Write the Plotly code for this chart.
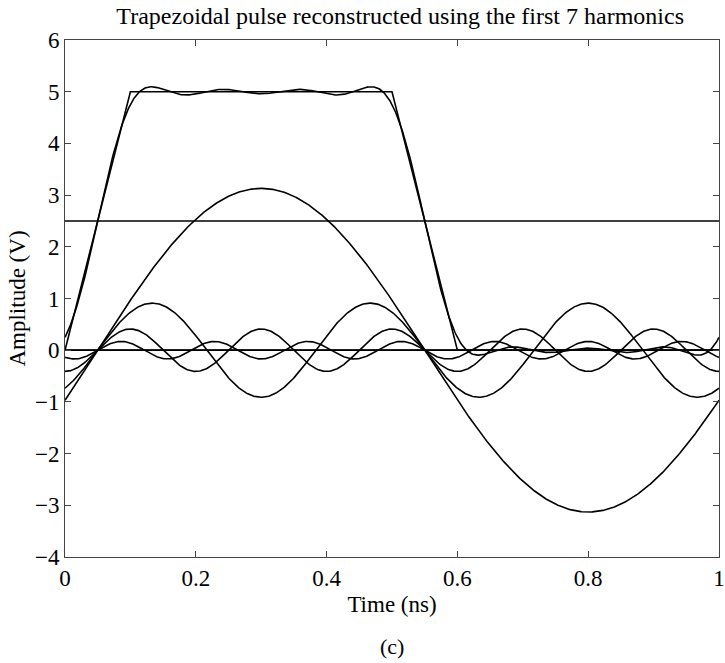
import numpy as np
import plotly.graph_objects as go

# Data
pulse_t = [0.0, 0.1, 0.5, 0.6, 1.0]          # trapezoid vertices (ns)
pulse_v = [0.0, 5.0, 5.0, 0.0, 0.0]          # trapezoid amplitude (V)
dc_level = 2.5                                # DC component (V)
harmonic_n = [1, 2, 3, 4, 5, 6, 7]
harmonic_amp = [3.13, 0.0, -0.91, 0.0, 0.41, 0.0, -0.17]  # cosine amplitudes (V)
pulse_center = 0.3                            # ns, centre of the pulse
period = 1.0                                  # ns
x_ticks = [0, 0.2, 0.4, 0.6, 0.8, 1]
x_ticklabels = ["0", "0.2", "0.4", "0.6", "0.8", "1"]
y_ticks = [-4, -3, -2, -1, 0, 1, 2, 3, 4, 5, 6]

t = np.linspace(0, period, 801)
line = dict(color="black", width=1.6)
FONT = "Liberation Serif, Times New Roman, serif"

fig = go.Figure()
# trapezoidal pulse
fig.add_trace(go.Scatter(x=pulse_t, y=pulse_v, mode="lines", line=line))
# DC term
fig.add_trace(go.Scatter(x=[0, period], y=[dc_level, dc_level], mode="lines", line=line))
# individual harmonics
total = np.full_like(t, dc_level)
for n, a in zip(harmonic_n, harmonic_amp):
    h = a * np.cos(2 * np.pi * n * (t - pulse_center) / period)
    total = total + h
    fig.add_trace(go.Scatter(x=t, y=h, mode="lines", line=line))
# reconstruction
fig.add_trace(go.Scatter(x=t, y=total, mode="lines", line=line))

axis_common = dict(
    showline=True, linecolor="#444444", linewidth=1, mirror="ticks",
    ticks="inside", ticklen=6, tickwidth=1, tickcolor="#444444",
    showgrid=False, zeroline=False, ticklabeloverflow="allow", automargin=False,
    tickfont=dict(family=FONT, size=23, color="black"),
)

fig.update_layout(
    width=725, height=663,
    margin=dict(l=65, r=6, t=40, b=106, autoexpand=False),
    plot_bgcolor="white", paper_bgcolor="white",
    showlegend=False,
    font=dict(family=FONT, color="black"),
    title=dict(text="Trapezoidal pulse reconstructed using the first 7 harmonics",
               font=dict(family=FONT, size=24, color="black"),
               x=0.552, xanchor="center", yref="container", y=1 - 16 / 663, yanchor="middle"),
    xaxis=dict(range=[0, 1], tickvals=x_ticks, ticktext=x_ticklabels,
               title=dict(text="Time (ns)", font=dict(family=FONT, size=23), standoff=6),
               **axis_common),
    yaxis=dict(range=[-4, 6], tickvals=y_ticks,
               title=dict(text="Amplitude (V)", font=dict(family=FONT, size=23), standoff=2),
               **axis_common),
    annotations=[dict(text="(c)", xref="paper", yref="paper", x=0.5, y=-104 / 517,
                      xanchor="center", yanchor="bottom", showarrow=False,
                      font=dict(family=FONT, size=22, color="black"))],
)

fig.write_html("out.html")
